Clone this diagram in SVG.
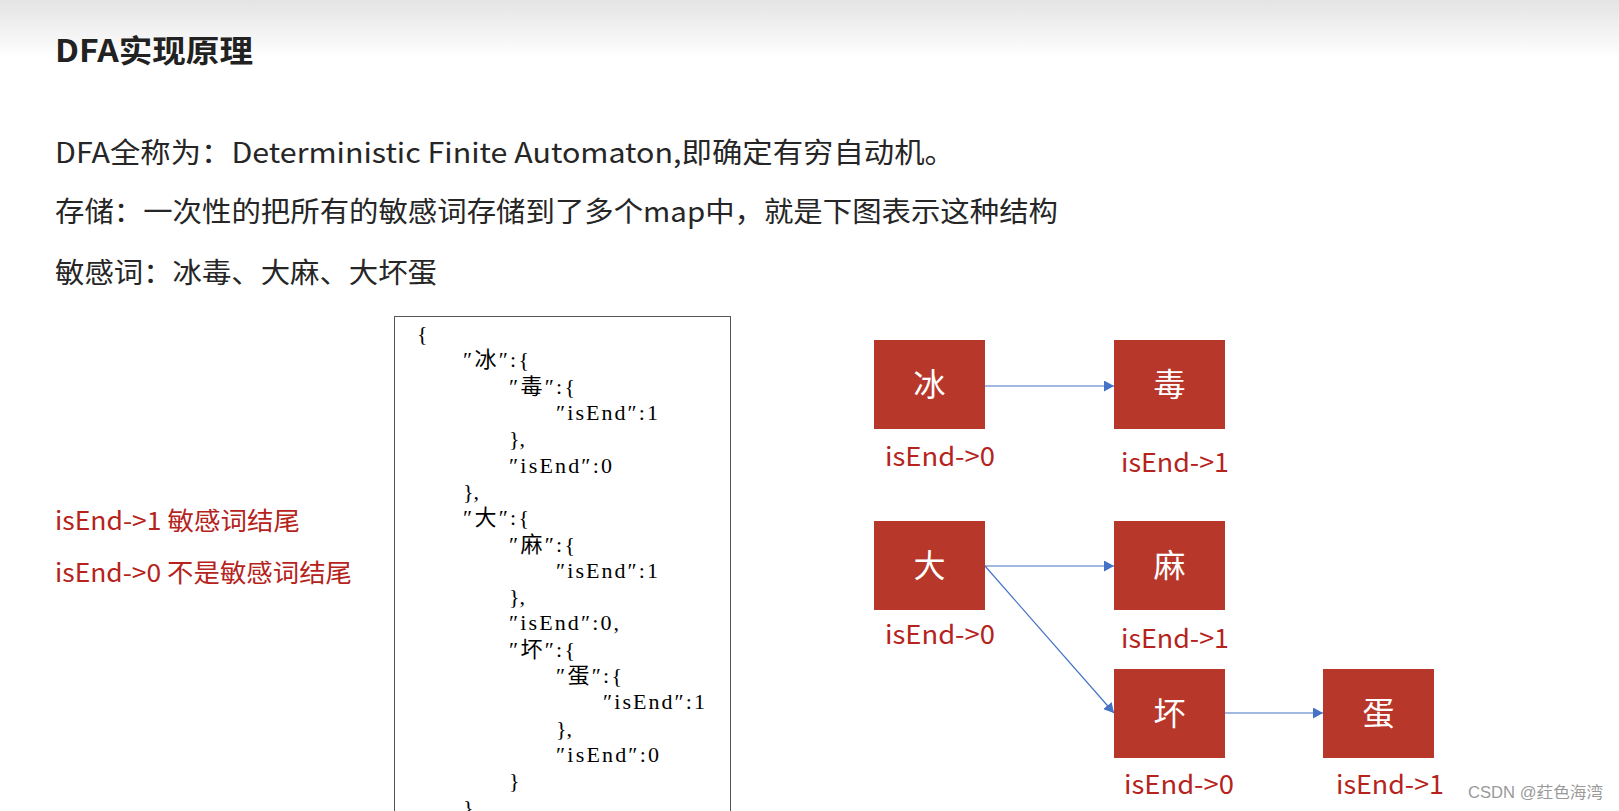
<svg xmlns="http://www.w3.org/2000/svg" width="1619" height="811" viewBox="0 0 1619 811">
<defs>
<linearGradient id="topband" x1="0" y1="0" x2="0" y2="1">
<stop offset="0" stop-color="#e4e4e4"/>
<stop offset="1" stop-color="#ffffff"/>
</linearGradient>
<marker id="arrow" viewBox="0 0 10 11" refX="10" refY="5.5" markerWidth="10" markerHeight="11" markerUnits="userSpaceOnUse" orient="auto">
<path d="M0,0 L10,5.5 L0,11 Z" fill="#4472C4"/>
</marker>
</defs>
<style>
.title{font-family:"Noto Sans CJK SC","Noto Sans",sans-serif;font-weight:bold;font-size:31px;fill:#222}
.body{font-family:"Noto Sans CJK SC","Noto Sans",sans-serif;font-size:28px;fill:#262626}
.legend{font-family:"Noto Sans CJK SC","Noto Sans",sans-serif;font-size:25px;fill:#B5231C}
.lbl{font-family:"Noto Sans CJK SC","Noto Sans",sans-serif;font-size:26px;fill:#B5231C}
.box{fill:#B7382A}
.ch{font-family:"Noto Sans CJK SC",sans-serif;font-size:32px;fill:#ffffff;text-anchor:middle}
.json{font-family:"Liberation Serif","Noto Sans CJK SC",serif;font-size:22px;fill:#000}
.conn{stroke:#4472C4;stroke-width:1.2;fill:none}
.wm{font-family:"Liberation Sans","Noto Sans CJK SC",sans-serif;font-size:16px;fill:#9a9a9a}
</style>
<rect x="0" y="0" width="1619" height="811" fill="#ffffff"/>
<rect x="0" y="0" width="1619" height="58" fill="url(#topband)"/>

<g id="header">
<text class="title" x="55" y="62" textLength="198" lengthAdjust="spacingAndGlyphs">DFA实现原理</text>
<text class="body" x="55" y="163" textLength="900" lengthAdjust="spacingAndGlyphs">DFA全称为：Deterministic Finite Automaton,即确定有穷自动机。</text>
<text class="body" x="55" y="222" textLength="1003" lengthAdjust="spacingAndGlyphs">存储：一次性的把所有的敏感词存储到了多个map中，就是下图表示这种结构</text>
<text class="body" x="55" y="283" textLength="382" lengthAdjust="spacingAndGlyphs">敏感词：冰毒、大麻、大坏蛋</text>
</g>

<g id="legend">
<text class="legend" x="55" y="530" textLength="245" lengthAdjust="spacingAndGlyphs">isEnd-&gt;1 敏感词结尾</text>
<text class="legend" x="55" y="582" textLength="297" lengthAdjust="spacingAndGlyphs">isEnd-&gt;0 不是敏感词结尾</text>
</g>

<g id="json">
<rect x="394.5" y="316.5" width="336" height="510" fill="#ffffff" stroke="#555" stroke-width="1"/>
<text class="json" x="417" y="341">{</text>
<text class="json" x="463" y="367.4" textLength="66" lengthAdjust="spacing">″冰″:{</text>
<text class="json" x="509" y="393.7" textLength="66" lengthAdjust="spacing">″毒″:{</text>
<text class="json" x="556" y="420" textLength="102" lengthAdjust="spacing">″isEnd″:1</text>
<text class="json" x="509" y="446.3">},</text>
<text class="json" x="509" y="472.6" textLength="103" lengthAdjust="spacing">″isEnd″:0</text>
<text class="json" x="463" y="498.9">},</text>
<text class="json" x="463" y="525.2" textLength="66" lengthAdjust="spacing">″大″:{</text>
<text class="json" x="509" y="551.5" textLength="66" lengthAdjust="spacing">″麻″:{</text>
<text class="json" x="556" y="577.8" textLength="102" lengthAdjust="spacing">″isEnd″:1</text>
<text class="json" x="509" y="604.1">},</text>
<text class="json" x="509" y="630.4" textLength="110" lengthAdjust="spacing">″isEnd″:0,</text>
<text class="json" x="509" y="656.7" textLength="66" lengthAdjust="spacing">″坏″:{</text>
<text class="json" x="556" y="683" textLength="66" lengthAdjust="spacing">″蛋″:{</text>
<text class="json" x="603" y="709.3" textLength="102" lengthAdjust="spacing">″isEnd″:1</text>
<text class="json" x="556" y="735.6">},</text>
<text class="json" x="556" y="761.9" textLength="103" lengthAdjust="spacing">″isEnd″:0</text>
<text class="json" x="509" y="788.2">}</text>
<text class="json" x="463" y="814.5">}</text>
</g>

<g id="connectors">
<line class="conn" x1="985" y1="386" x2="1114" y2="386" marker-end="url(#arrow)"/>
<line class="conn" x1="985" y1="566" x2="1114" y2="566" marker-end="url(#arrow)"/>
<line class="conn" x1="985" y1="566" x2="1114" y2="713" marker-end="url(#arrow)"/>
<line class="conn" x1="1225" y1="713" x2="1323" y2="713" marker-end="url(#arrow)"/>
</g>

<g id="node-bing">
<rect class="box" x="874" y="340" width="111" height="89"/>
<text class="ch" x="929.5" y="396">冰</text>
<text class="lbl" x="885" y="466" textLength="110" lengthAdjust="spacingAndGlyphs">isEnd-&gt;0</text>
</g>
<g id="node-du">
<rect class="box" x="1114" y="340" width="111" height="89"/>
<text class="ch" x="1169.5" y="396">毒</text>
<text class="lbl" x="1121" y="472" textLength="108" lengthAdjust="spacingAndGlyphs">isEnd-&gt;1</text>
</g>
<g id="node-da">
<rect class="box" x="874" y="521" width="111" height="89"/>
<text class="ch" x="929.5" y="577">大</text>
<text class="lbl" x="885" y="644" textLength="110" lengthAdjust="spacingAndGlyphs">isEnd-&gt;0</text>
</g>
<g id="node-ma">
<rect class="box" x="1114" y="521" width="111" height="89"/>
<text class="ch" x="1169.5" y="577">麻</text>
<text class="lbl" x="1121" y="648" textLength="108" lengthAdjust="spacingAndGlyphs">isEnd-&gt;1</text>
</g>
<g id="node-huai">
<rect class="box" x="1114" y="669" width="111" height="89"/>
<text class="ch" x="1169.5" y="725">坏</text>
<text class="lbl" x="1124" y="794" textLength="110" lengthAdjust="spacingAndGlyphs">isEnd-&gt;0</text>
</g>
<g id="node-dan">
<rect class="box" x="1323" y="669" width="111" height="89"/>
<text class="ch" x="1378.5" y="725">蛋</text>
<text class="lbl" x="1336" y="794" textLength="108" lengthAdjust="spacingAndGlyphs">isEnd-&gt;1</text>
</g>

<text class="wm" x="1468" y="798" textLength="135" lengthAdjust="spacingAndGlyphs">CSDN @荭色海湾</text>
</svg>
